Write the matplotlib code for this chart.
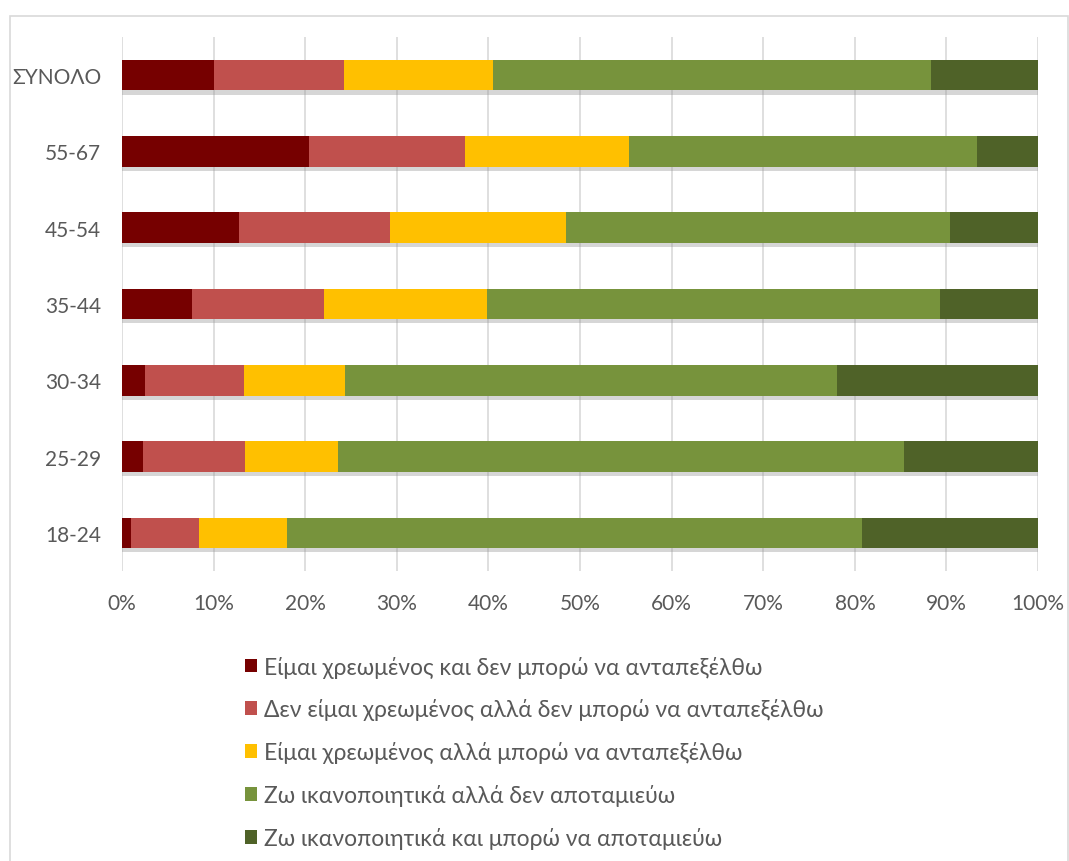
import matplotlib.pyplot as plt
import matplotlib.patheffects as pe
from matplotlib.patches import Rectangle
from matplotlib.ticker import PercentFormatter

plt.rcParams['font.family'] = ['Lato', 'DejaVu Sans']

categories = ["18-24", "25-29", "30-34", "35-44", "45-54", "55-67", "ΣΥΝΟΛΟ"]
series_names = [
    "Είμαι χρεωμένος και δεν μπορώ να ανταπεξέλθω",
    "Δεν είμαι χρεωμένος αλλά δεν μπορώ να ανταπεξέλθω",
    "Είμαι χρεωμένος αλλά μπορώ να ανταπεξέλθω",
    "Ζω ικανοποιητικά αλλά δεν αποταμιεύω",
    "Ζω ικανοποιητικά και μπορώ να αποταμιεύω",
]
# shares in percent, bottom row first
debt_cannot = [1.0, 2.3, 2.5, 7.6, 12.8, 20.4, 10.0]
nodebt_cannot = [7.4, 11.1, 10.8, 14.5, 16.5, 17.0, 14.2]
debt_can = [9.6, 10.2, 11.0, 17.7, 19.2, 17.9, 16.3]
ok_nosave = [62.8, 61.8, 53.8, 49.5, 41.9, 38.0, 47.8]
ok_save = [19.2, 14.6, 21.9, 10.7, 9.6, 6.7, 11.7]

colors = ["#760000", "#C0504D", "#FFC000", "#77933C", "#4F6228"]
text_color = "#595959"

fig = plt.figure(figsize=(10.69, 8.62), dpi=100)
ax = fig.add_axes([0.1141, 0.3364, 0.857, 0.6195])

# chart border like the original
fig.patches.append(Rectangle((0.0094, -0.01), 0.99, 0.99, transform=fig.transFigure,
                             fill=False, edgecolor="#D9D9D9", linewidth=1.2))

shadow = [pe.SimplePatchShadow(offset=(0, -3), shadow_rgbFace="#8c8c8c", alpha=0.35), pe.Normal()]

y = range(len(categories))
left = [0.0] * len(categories)
for name, vals, col in zip(series_names, [debt_cannot, nodebt_cannot, debt_can, ok_nosave, ok_save], colors):
    bars = ax.barh(y, vals, left=left, height=0.4, color=col, label=name, zorder=3)
    for b in bars:
        b.set_path_effects(shadow)
    left = [l + v for l, v in zip(left, vals)]

ax.set_xlim(0, 100)
ax.set_ylim(-0.5, len(categories) - 0.5)
ax.set_xticks(range(0, 101, 10))
ax.xaxis.set_major_formatter(PercentFormatter(decimals=0))
ax.set_yticks(list(y))
ax.set_yticklabels(categories)
ax.tick_params(length=0, labelsize=15, labelcolor=text_color)
ax.tick_params(axis="x", pad=16)
ax.tick_params(axis="y", pad=15)
ax.grid(axis="x", color="#D9D9D9", linewidth=1.2, zorder=0)
ax.set_axisbelow(True)
for s in ax.spines.values():
    s.set_visible(False)

leg = fig.legend(loc="upper left", bbox_to_anchor=(0.2205, 0.249), frameon=False,
                 fontsize=16.5, labelcolor=text_color, handlelength=0.55, handleheight=0.55,
                 handletextpad=0.3, labelspacing=0.91, borderaxespad=0)
for h in leg.legend_handles:
    h.set_path_effects([])

fig.savefig("out.png", dpi=100)
